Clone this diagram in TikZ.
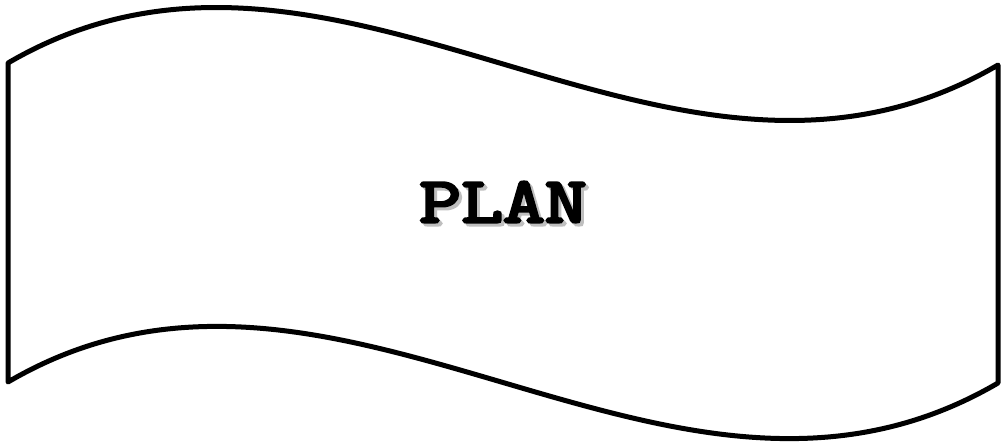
\documentclass[tikz,border=0pt]{standalone}
\usepackage{fontspec}
\newfontfamily\monob[FakeBold=4]{Latin Modern Mono}
\begin{document}
\begin{tikzpicture}[x=1pt,y=-1pt,
  flag/.style={draw=black, line width=5pt, line join=round, fill=white},
  plantext/.style={font=\monob\fontsize{65}{65}\selectfont, inner sep=0pt, xscale=1.25}]
\useasboundingbox (0,0) rectangle (1002,446);
\coordinate (tl) at (8,63);
\coordinate (tr) at (998,65);
\coordinate (br) at (998,383);
\coordinate (bl) at (8,382);
\draw[flag] (tl) .. controls (338,-130) and (668,258) .. (tr)
  -- (br) .. controls (668,576) and (338,189) .. (bl) -- cycle;
\node[plantext, text=black!25] (shadow) at (506,205) {PLAN};
\node[plantext, text=black] (label) at (503,202) {PLAN};
\end{tikzpicture}
\end{document}
